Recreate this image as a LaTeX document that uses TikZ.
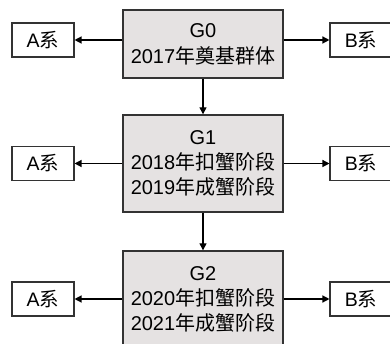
\documentclass[tikz,border=0pt]{standalone}
\usepackage{fontspec}
\setmainfont{Liberation Sans}
\newfontfamily\cjk{Noto Sans CJK SC}
\usetikzlibrary{arrows.meta}
\begin{document}
\begin{tikzpicture}[x=1pt,y=-1pt,
  gbox/.style={draw=black!80,line width=1.4pt,fill=gray!20!white!95!red!0,fill={rgb,255:red,229;green,226;blue,226},
    minimum width=160pt,align=center,inner sep=0pt,font=\fontsize{20}{25}\selectfont},
  sidebox/.style={draw=black!80,line width=1.1pt,fill=white,minimum width=62pt,minimum height=34pt,
    inner sep=0pt,font=\fontsize{19.5}{24}\selectfont},
  arr/.style={line width=1.3pt,-{Triangle[length=7pt,width=7pt]}}]
\useasboundingbox (0,0) rectangle (390,344);
\begin{scope}
\clip (0,0) rectangle (390,344);
\node[gbox,minimum height=68pt] (G0) at (203,44) {G0\\[1pt]2017{\cjk 年奠基群体}};
\node[gbox,minimum height=97pt] (G1) at (203,163.5) {G1\\2018{\cjk 年扣蟹阶段}\\2019{\cjk 年成蟹阶段}};
\node[gbox,minimum height=97pt] (G2) at (203,299.5) {G2\\2020{\cjk 年扣蟹阶段}\\2021{\cjk 年成蟹阶段}};
\node[sidebox] (A0) at (43,40) {A{\cjk 系}};
\node[sidebox] (A1) at (43,163.5) {A{\cjk 系}};
\node[sidebox] (A2) at (43,299) {A{\cjk 系}};
\node[sidebox] (B0) at (361,40) {B{\cjk 系}};
\node[sidebox] (B1) at (361,163.5) {B{\cjk 系}};
\node[sidebox] (B2) at (361,299) {B{\cjk 系}};
\end{scope}
\draw[arr] (G0.west |- A0.east) -- (A0.east);
\draw[arr] (G1.west |- A1.east) -- (A1.east);
\draw[arr] (G2.west |- A2.east) -- (A2.east);
\draw[arr] (G0.east |- B0.west) -- (B0.west);
\draw[arr] (G1.east |- B1.west) -- (B1.west);
\draw[arr] (G2.east |- B2.west) -- (B2.west);
\draw[arr] (G0.south) -- (G1.north);
\draw[arr] (G1.south) -- (G2.north);
\end{tikzpicture}
\end{document}
